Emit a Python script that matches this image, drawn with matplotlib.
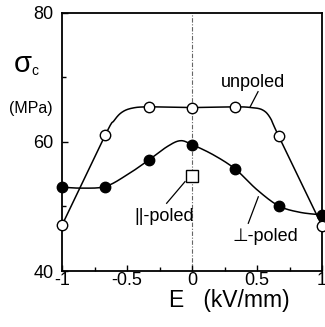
# Coercive stress vs. electric field

import numpy as np
import matplotlib
matplotlib.use("Agg")
import matplotlib.pyplot as plt

# -- Data --
field = [-1.0, -0.667, -0.333, 0.0, 0.333, 0.667, 1.0]
unpoled = [47.1, 61.1, 65.5, 65.3, 65.5, 60.9, 47.0]
perp_poled = [53.0, 53.1, 57.2, 59.5, 55.8, 50.1, 48.7]
para_field = [0.0]
para_poled = [54.8]

# fitted guide curves
unpoled_fit_x = [-1.0, -0.667, -0.6, -0.54, -0.46, -0.333, 0.0, 0.333, 0.45, 0.54, 0.6, 0.667, 1.0]
unpoled_fit_y = [47.1, 61.1, 63.3, 64.6, 65.25, 65.45, 65.35, 65.45, 65.35, 65.0, 63.8, 60.9, 47.0]
perp_fit_x = [-1.0, -0.85, -0.667, -0.5, -0.333, -0.19, -0.09, 0.0, 0.165, 0.333, 0.5, 0.667, 0.83, 1.0]
perp_fit_y = [53.0, 52.85, 53.1, 54.9, 57.2, 59.3, 60.2, 59.6, 58.0, 55.8, 52.6, 50.1, 49.1, 48.7]


def smooth(xs, ys, n=25):
    """Catmull-Rom curve through the given points."""
    pts = np.column_stack([xs, ys])
    p = np.vstack([pts[0], pts, pts[-1]])
    t = np.linspace(0, 1, n, endpoint=False)[:, None]
    out = []
    for i in range(1, len(p) - 2):
        p0, p1, p2, p3 = p[i - 1], p[i], p[i + 1], p[i + 2]
        seg = 0.5 * (2 * p1 + (-p0 + p2) * t
                     + (2 * p0 - 5 * p1 + 4 * p2 - p3) * t ** 2
                     + (-p0 + 3 * p1 - 3 * p2 + p3) * t ** 3)
        out.append(seg)
    out.append(pts[-1:])
    c = np.vstack(out)
    return c[:, 0], c[:, 1]


plt.rcParams["font.family"] = ["Liberation Sans", "DejaVu Sans"]

fig = plt.figure(figsize=(3.25, 3.27), dpi=100)
ax = fig.add_axes([62 / 325, 1 - 271 / 327, 260 / 325, 258 / 327])

# -- guide line at E = 0 --
ax.axvline(0, color="#666666", lw=0.8, ls=(0, (4, 1.5, 1, 1.5)), zorder=1)

# -- curves --
ux, uy = smooth(unpoled_fit_x, unpoled_fit_y)
px, py = smooth(perp_fit_x, perp_fit_y)
ax.plot(ux, uy, color="black", lw=1.1, zorder=2)
ax.plot(px, py, color="black", lw=1.1, zorder=2)

# -- markers --
ax.plot(field, unpoled, "o", ms=7.5, mfc="white", mec="black", mew=1.0,
        clip_on=False, zorder=4)
ax.plot(field, perp_poled, "o", ms=7.5, mfc="black", mec="black",
        clip_on=False, zorder=4)
ax.plot(para_field, para_poled, "s", ms=8, mfc="white", mec="black", mew=1.0,
        zorder=4)

# -- labels with leader lines --
label_kw = dict(fontsize=13, ha="center", va="center")
ax.text(0.47, 69.3, "unpoled", **label_kw)
ax.plot([0.508, 0.446], [67.8, 65.4], color="black", lw=0.9)
ax.text(-0.215, 48.5, "||-poled", **label_kw)
ax.plot([-0.195, -0.054], [50.5, 53.85], color="black", lw=0.9)
ax.text(0.562, 45.4, "\u22a5-poled", **label_kw)
ax.plot([0.433, 0.51], [47.4, 51.5], color="black", lw=0.9)

# -- axes --
ax.set_xlim(-1, 1)
ax.set_ylim(40, 80)
ax.set_xticks([-1, -0.5, 0, 0.5, 1])
ax.set_xticklabels(["-1", "-0.5", "0", "0.5", "1"])
ax.set_xticks([-0.75, -0.25, 0.25, 0.75], minor=True)
ax.set_yticks([40, 60, 80])
ax.set_yticks([50, 70], minor=True)
ax.tick_params(which="both", direction="in", width=1.0, labelsize=13)
ax.tick_params(which="major", length=4.5)
ax.tick_params(which="minor", length=3.2)
ax.tick_params(axis="x", pad=1)
ax.tick_params(axis="y", pad=6)
for s in ax.spines.values():
    s.set_linewidth(1.3)

# -- axis titles --
fig.text(229 / 325, 1 - 307.5 / 327, "E   (kV/mm)", fontsize=16.5,
         ha="center", va="baseline")
fig.text(14 / 325, 1 - 72 / 327, "\u03c3", fontsize=21, ha="left", va="baseline")
fig.text(31.5 / 325, 1 - 75 / 327, "c", fontsize=10, ha="left", va="baseline")
fig.text(31 / 325, 1 - 109 / 327, "(MPa)", fontsize=11.5, ha="center", va="center")

fig.savefig("out.png", dpi=100)
